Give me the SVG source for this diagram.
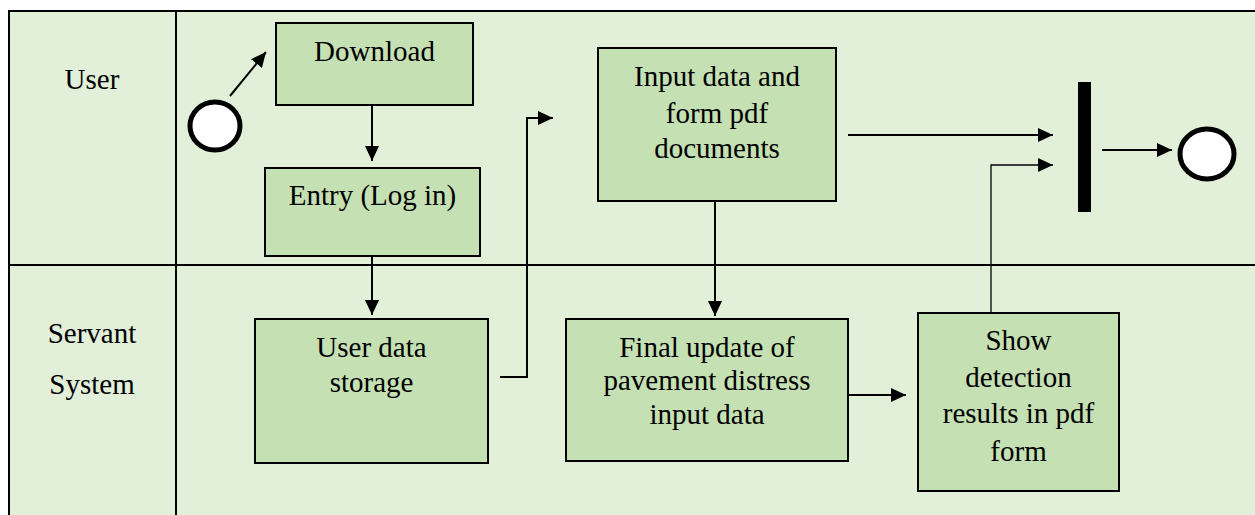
<svg xmlns="http://www.w3.org/2000/svg" width="1255" height="515" viewBox="0 0 1255 515">
<style>
  .lane { fill: #e2efd9; stroke: none; }
  .grid { stroke: #000; stroke-width: 2; fill: none; }
  .box { fill: #c5e0b3; stroke: #000; stroke-width: 2; }
  .t { font-family: "Liberation Serif", "Times New Roman", serif; font-size: 29px; fill: #000; text-anchor: middle; }
  .c { stroke: #000; stroke-width: 2; fill: none; }
  .thin { stroke: #000; stroke-width: 1.3; fill: none; }
  .circ { fill: #fff; stroke: #000; stroke-width: 5; }
</style>
<defs>
  <marker id="ah" markerUnits="userSpaceOnUse" markerWidth="15" markerHeight="14" viewBox="0 0 15 14" refX="15" refY="7" orient="auto">
    <path d="M0,0 L15,7 L0,14 z" fill="#000"/>
  </marker>
</defs>
<rect width="1255" height="515" fill="#fff"/>
<rect class="lane" x="9" y="11" width="1246" height="504"/>
<g id="lanes">
  <path class="grid" d="M1255,11 H9 V515 M176,11 V515 M9,265 H1255"/>
  <text class="t" x="92" y="89">User</text>
  <text class="t" x="92" y="343">Servant</text>
  <text class="t" x="92" y="394">System</text>
</g>
<g id="connectors">
  <line class="c" x1="230" y1="96" x2="266" y2="52" marker-end="url(#ah)"/>
  <line class="c" x1="372" y1="106" x2="372" y2="161" marker-end="url(#ah)"/>
  <line class="c" x1="372" y1="256" x2="372" y2="315" marker-end="url(#ah)"/>
  <polyline class="c" points="500,377 527,377 527,118 553,118" marker-end="url(#ah)"/>
  <line class="c" x1="715" y1="201" x2="715" y2="316" marker-end="url(#ah)"/>
  <line class="c" x1="848" y1="395" x2="906" y2="395" marker-end="url(#ah)"/>
  <polyline class="thin" points="991,313 991,165 1053,165" marker-end="url(#ah)"/>
  <line class="c" x1="848" y1="135" x2="1053" y2="135" marker-end="url(#ah)"/>
  <line class="c" x1="1102" y1="150" x2="1172" y2="150" marker-end="url(#ah)"/>
</g>
<g id="start"><ellipse class="circ" cx="215" cy="126" rx="25" ry="24"/></g>
<g id="download">
  <rect class="box" x="276" y="23" width="197" height="82"/>
  <text class="t" x="374.5" y="61">Download</text>
</g>
<g id="entry">
  <rect class="box" x="265" y="168" width="215" height="88"/>
  <text class="t" x="372.5" y="205">Entry (Log in)</text>
</g>
<g id="userdata">
  <rect class="box" x="255" y="319" width="233" height="144"/>
  <text class="t" x="371.5" y="357">User data</text>
  <text class="t" x="371.5" y="392">storage</text>
</g>
<g id="input">
  <rect class="box" x="598" y="48" width="238" height="153"/>
  <text class="t" x="717" y="86">Input data and</text>
  <text class="t" x="717" y="123">form pdf</text>
  <text class="t" x="717" y="158">documents</text>
</g>
<g id="final">
  <rect class="box" x="566" y="319" width="282" height="142"/>
  <text class="t" x="707" y="357">Final update of</text>
  <text class="t" x="707" y="390">pavement distress</text>
  <text class="t" x="707" y="424">input data</text>
</g>
<g id="show">
  <rect class="box" x="918" y="313" width="201" height="178"/>
  <text class="t" x="1018.5" y="350">Show</text>
  <text class="t" x="1018.5" y="387">detection</text>
  <text class="t" x="1018.5" y="423">results in pdf</text>
  <text class="t" x="1018.5" y="461">form</text>
</g>
<g id="join"><rect x="1078" y="82" width="13" height="130" fill="#000"/></g>
<g id="end"><ellipse class="circ" cx="1207" cy="154" rx="27" ry="25"/></g>
</svg>
